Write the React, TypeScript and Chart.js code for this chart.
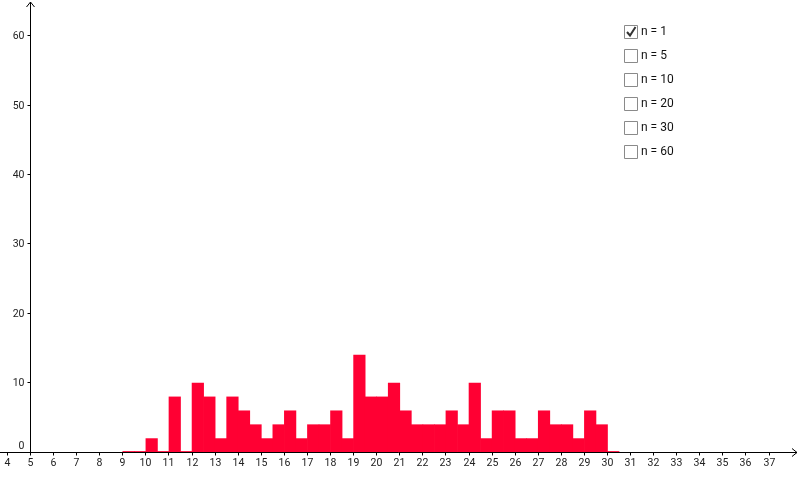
import { useEffect, useRef } from 'react';
import { Chart, registerables } from 'chart.js';

Chart.register(...registerables);

// Histogram bins (left edges, width 0.5) and their heights
const binStarts = [
  9, 9.5, 10, 10.5, 11, 11.5, 12, 12.5, 13, 13.5, 14, 14.5, 15, 15.5, 16, 16.5,
  17, 17.5, 18, 18.5, 19, 19.5, 20, 20.5, 21, 21.5, 22, 22.5, 23, 23.5, 24, 24.5,
  25, 25.5, 26, 26.5, 27, 27.5, 28, 28.5, 29, 29.5, 30,
];
const frequencies = [
  0.15, 0.15, 2, 0.15, 8, 0.15, 10, 8, 2, 8, 6, 4, 2, 4, 6, 2,
  4, 4, 6, 2, 14, 8, 8, 10, 6, 4, 4, 4, 6, 4, 10, 2,
  6, 6, 2, 2, 6, 4, 4, 2, 6, 4, 0.15,
];
const binWidth = 0.5;

const xTickLabels = [
  4, 5, 6, 7, 8, 9, 10, 11, 12, 13, 14, 15, 16, 17, 18, 19, 20, 21, 22, 23, 24,
  25, 26, 27, 28, 29, 30, 31, 32, 33, 34, 35, 36, 37,
];
const yTickLabels = [0, 10, 20, 30, 40, 50, 60];

const legendLabels = ['n = 1', 'n = 5', 'n = 10', 'n = 20', 'n = 30', 'n = 60'];
const legendChecked = [true, false, false, false, false, false];

const X_MIN = 3.6785;
const X_MAX = 38.3405;
const Y_MIN = -3.957;
const Y_MAX = 65.108;
const AXIS_X = 5;

const axesPlugin = {
  id: 'geoAxes',
  afterDatasetsDraw(chart: any) {
    const ctx = chart.ctx as CanvasRenderingContext2D;
    const xs = chart.scales.x;
    const ys = chart.scales.y;
    const ox = Math.round(xs.getPixelForValue(AXIS_X) - 0.5) + 0.5;
    const oy = Math.round(ys.getPixelForValue(0) - 0.5) + 0.5;
    const W = chart.width;

    ctx.save();
    ctx.strokeStyle = '#000';
    ctx.fillStyle = '#222';
    ctx.lineWidth = 1;

    // x axis
    ctx.beginPath();
    ctx.moveTo(0, oy);
    ctx.lineTo(W - 3, oy);
    ctx.stroke();
    ctx.beginPath();
    ctx.moveTo(W - 8, oy - 4);
    ctx.lineTo(W - 3, oy);
    ctx.lineTo(W - 8, oy + 4);
    ctx.stroke();

    // y axis
    ctx.beginPath();
    ctx.moveTo(ox, oy);
    ctx.lineTo(ox, 2);
    ctx.stroke();
    ctx.beginPath();
    ctx.moveTo(ox - 4, 7);
    ctx.lineTo(ox, 2);
    ctx.lineTo(ox + 4, 7);
    ctx.stroke();

    ctx.font = '10.5px Roboto';

    // x ticks
    ctx.textAlign = 'center';
    ctx.textBaseline = 'top';
    xTickLabels.forEach((v) => {
      const px = Math.round(xs.getPixelForValue(v) - 0.5) + 0.5;
      ctx.beginPath();
      ctx.moveTo(px, oy);
      ctx.lineTo(px, oy + 3);
      ctx.stroke();
      ctx.fillText(String(v), px, oy + 6);
    });

    // y ticks
    ctx.textAlign = 'right';
    ctx.textBaseline = 'middle';
    yTickLabels.forEach((v) => {
      const py = Math.round(ys.getPixelForValue(v) - 0.5) + 0.5;
      if (v === 0) {
        ctx.fillText('0', ox - 6, py - 6);
        return;
      }
      ctx.beginPath();
      ctx.moveTo(ox - 3, py);
      ctx.lineTo(ox, py);
      ctx.stroke();
      ctx.fillText(String(v), ox - 6, py + 0.5);
    });

    // checkbox legend
    ctx.font = '12px Roboto';
    ctx.textAlign = 'left';
    ctx.textBaseline = 'middle';
    legendLabels.forEach((label, i) => {
      const cy = 32 + i * 24;
      const bx = 624.5;
      const by = cy - 6.5;
      ctx.fillStyle = '#fff';
      ctx.fillRect(bx, by, 13, 13);
      ctx.strokeStyle = '#8a8a8a';
      ctx.beginPath();
      ctx.rect(bx, by, 13, 13);
      ctx.stroke();
      if (legendChecked[i]) {
        ctx.strokeStyle = '#333';
        ctx.lineWidth = 2;
        ctx.beginPath();
        ctx.moveTo(bx + 2.5, by + 6.5);
        ctx.lineTo(bx + 5.5, by + 10);
        ctx.lineTo(bx + 11, by + 1.5);
        ctx.stroke();
        ctx.lineWidth = 1;
      }
      ctx.fillStyle = '#111';
      ctx.fillText(label, 641, cy);
    });

    ctx.restore();
  },
};

export default function App() {
  const canvasRef = useRef<HTMLCanvasElement | null>(null);

  useEffect(() => {
    document.body.style.margin = '0';
    const canvas = canvasRef.current;
    if (!canvas) return;
    const chart = new Chart(canvas, {
      type: 'bar',
      data: {
        datasets: [
          {
            data: binStarts.map((s, i) => ({ x: s + binWidth / 2, y: frequencies[i] })),
            backgroundColor: '#ff0033',
            borderWidth: 0,
            barPercentage: 1,
            categoryPercentage: 1,
          },
        ],
      },
      options: {
        animation: false,
        responsive: false,
        events: [],
        layout: { padding: 0 },
        plugins: { legend: { display: false }, tooltip: { enabled: false }, title: { display: false } },
        scales: {
          x: {
            type: 'linear',
            min: X_MIN,
            max: X_MAX,
            offset: false,
            display: false,
            ticks: { stepSize: 1 },
          },
          y: {
            type: 'linear',
            min: Y_MIN,
            max: Y_MAX,
            display: false,
          },
        },
      },
      plugins: [axesPlugin],
    });
    return () => chart.destroy();
  }, []);

  return (
    <div style={{ width: 800, height: 480, background: '#fff' }}>
      <canvas ref={canvasRef} width={800} height={480} style={{ display: 'block' }} />
    </div>
  );
}
